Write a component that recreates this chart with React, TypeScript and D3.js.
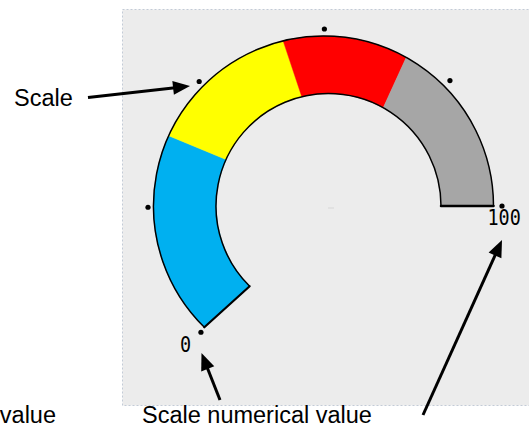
import React from "react";
import * as d3 from "d3";

// Gauge band thresholds (scale 0..100)
const bandStops = [0, 31, 54, 73, 100];
const bandColors = ["#00B0F0", "#FFFF00", "#FF0000", "#A6A6A6"];
// scale dots
const tickValues = [0, 20, 40, 60, 80, 100];
// scale labels shown
const tickLabels = [
  { value: 0, text: "0" },
  { value: 100, text: "100" },
];
// annotations
const annotations = [
  { text: "Scale", x: 14, y: 106, anchor: "start" },
  { text: "value", x: 56, y: 423, anchor: "end" },
  { text: "Scale numerical value", x: 142, y: 423, anchor: "start" },
];
const arrows = [
  { x1: 88, y1: 97.5, x2: 190, y2: 86 },
  { x1: 220, y1: 400, x2: 201.5, y2: 353 },
  { x1: 423, y1: 415, x2: 502, y2: 240 },
];

const W = 529;
const H = 427;
const outerC = { x: 323.5, y: 206 };
const innerC = { x: 328.5, y: 206 };
const rOuter = 170;
const rInner = 112.5;
const rDots = 177;

const angle = d3.scaleLinear().domain([0, 100]).range([-135.5, 90]);
const toPhi = (v: number) => ((angle(v) - 90) * Math.PI) / 180;

function bandPath(v0: number, v1: number) {
  const p0 = toPhi(v0);
  const p1 = toPhi(v1);
  const p = d3.path();
  p.moveTo(outerC.x + rOuter * Math.cos(p0), outerC.y + rOuter * Math.sin(p0));
  p.arc(outerC.x, outerC.y, rOuter, p0, p1, false);
  p.lineTo(innerC.x + rInner * Math.cos(p1), innerC.y + rInner * Math.sin(p1));
  p.arc(innerC.x, innerC.y, rInner, p1, p0, true);
  p.closePath();
  return p.toString();
}

function arcLine(c: { x: number; y: number }, r: number, v0: number, v1: number) {
  const p0 = toPhi(v0);
  const p1 = toPhi(v1);
  const p = d3.path();
  p.moveTo(c.x + r * Math.cos(p0), c.y + r * Math.sin(p0));
  p.arc(c.x, c.y, r, p0, p1, false);
  return p.toString();
}

function edge(v: number) {
  const ph = toPhi(v);
  return {
    x1: outerC.x + rOuter * Math.cos(ph),
    y1: outerC.y + rOuter * Math.sin(ph),
    x2: innerC.x + rInner * Math.cos(ph),
    y2: innerC.y + rInner * Math.sin(ph),
  };
}

function Arrow({ x1, y1, x2, y2 }: { x1: number; y1: number; x2: number; y2: number }) {
  const len = 17;
  const hw = 7;
  const dx = x2 - x1;
  const dy = y2 - y1;
  const d = Math.hypot(dx, dy);
  const ux = dx / d;
  const uy = dy / d;
  const bx = x2 - ux * len;
  const by = y2 - uy * len;
  const pts = [
    [x2, y2],
    [bx - uy * hw, by + ux * hw],
    [bx + uy * hw, by - ux * hw],
  ];
  return (
    <g>
      <line x1={x1} y1={y1} x2={bx + ux * 2} y2={by + uy * 2} stroke="#000" strokeWidth={3} />
      <polygon points={pts.map((q) => q.join(",")).join(" ")} fill="#000" />
    </g>
  );
}

export default function App() {
  const bands = bandColors.map((c, i) => ({ color: c, v0: bandStops[i], v1: bandStops[i + 1] }));
  const e0 = edge(0);
  const e1 = edge(100);
  return (
    <svg
      width={W}
      height={H}
      style={{ position: "absolute", left: 0, top: 0 }}
      fontFamily="'Liberation Sans', Arial, sans-serif"
    >
      <rect x={0} y={0} width={W} height={H} fill="#fff" />
      <rect
        x={122.5}
        y={9.5}
        width={420}
        height={396}
        fill="#ECECEC"
        stroke="#C3CBD6"
        strokeWidth={1}
        strokeDasharray="2,2"
      />
      {bands.map((b, i) => (
        <path key={i} d={bandPath(b.v0, b.v1)} fill={b.color} stroke={b.color} strokeWidth={0.5} />
      ))}
      <path d={arcLine(outerC, rOuter, 0, 100)} fill="none" stroke="#000" strokeWidth={1.5} />
      <path d={arcLine(innerC, rInner, 0, 100)} fill="none" stroke="#000" strokeWidth={1.5} />
      <line {...e0} stroke="#000" strokeWidth={2.2} strokeLinecap="round" />
      <line {...e1} stroke="#000" strokeWidth={2.5} strokeLinecap="round" />
      {tickValues.map((v) => {
        const ph = toPhi(v);
        return (
          <circle
            key={v}
            cx={outerC.x + 1.5 + rDots * Math.cos(ph)}
            cy={outerC.y + rDots * Math.sin(ph)}
            r={2.6}
            fill="#000"
          />
        );
      })}
      <line x1={328} y1={208} x2={334} y2={208} stroke="#D6D6D6" strokeWidth={1} />
      {tickLabels.map((t) => {
        const isStart = t.value === 0;
        const x = isStart ? 191 : 487.5;
        const y = isStart ? 351.5 : 225;
        return (
          <text
            key={t.value}
            transform={`translate(${x},${y}) scale(0.88,1)`}
            textAnchor={isStart ? "end" : "start"}
            fontFamily="'DejaVu Sans Mono', monospace"
            fontSize={21}
            fill="#000"
          >
            {t.text}
          </text>
        );
      })}
      {annotations.map((a, i) => (
        <text key={i} x={a.x} y={a.y} textAnchor={a.anchor as any} fontSize={23.5} fill="#000">
          {a.text}
        </text>
      ))}
      {arrows.map((a, i) => (
        <Arrow key={i} {...a} />
      ))}
    </svg>
  );
}
